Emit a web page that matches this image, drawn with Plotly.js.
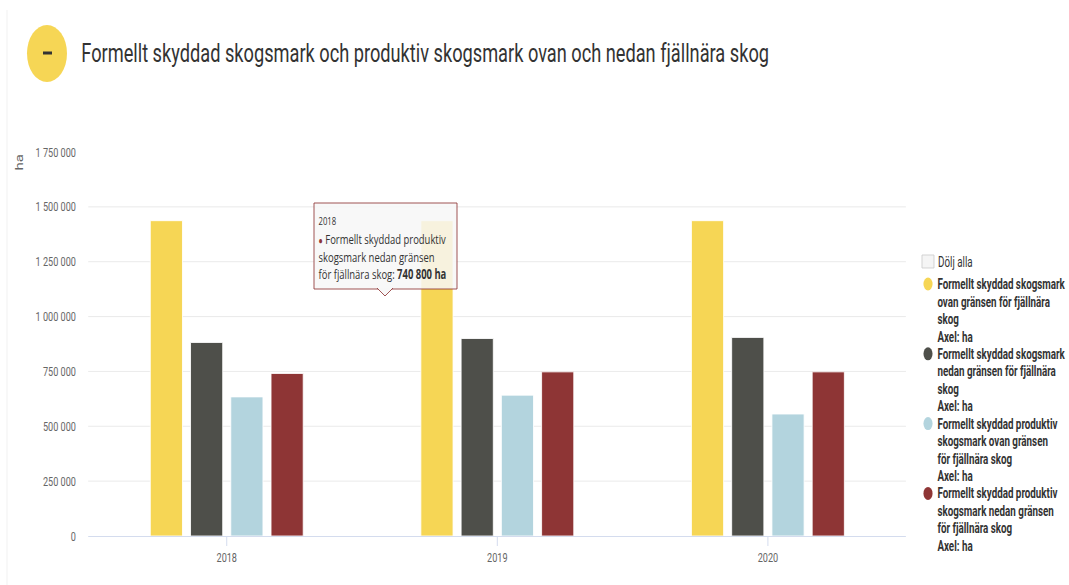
<!DOCTYPE html>
<html><head><meta charset="utf-8">
<script src="https://cdn.plot.ly/plotly-3.0.1.min.js"></script>
<style>
html,body{margin:0;padding:0;overflow:hidden;background:#fff;width:1069px;height:585px}
#chart{width:1527px;height:585px;transform:scaleX(0.70007);transform-origin:0 0}
</style></head><body><div id="chart"></div>
<script>
// ---- data ----
const years = ['2018', '2019', '2020'];
const seriesNames = [
  'Formellt skyddad skogsmark ovan gränsen för fjällnära skog',
  'Formellt skyddad skogsmark nedan gränsen för fjällnära skog',
  'Formellt skyddad produktiv skogsmark ovan gränsen för fjällnära skog',
  'Formellt skyddad produktiv skogsmark nedan gränsen för fjällnära skog'
];
const skogsmarkOvan = [1437000, 1437000, 1437000];
const skogsmarkNedan = [882000, 900000, 905000];
const produktivOvan = [634000, 642000, 556000];
const produktivNedan = [740800, 748000, 748000];
const yTickVals = [0, 250000, 500000, 750000, 1000000, 1250000, 1500000, 1750000];
const legendLines = [
  ['Formellt skyddad skogsmark', 'ovan gränsen för fjällnära', 'skog', 'Axel: ha'],
  ['Formellt skyddad skogsmark', 'nedan gränsen för fjällnära', 'skog', 'Axel: ha'],
  ['Formellt skyddad produktiv', 'skogsmark ovan gränsen', 'för fjällnära skog', 'Axel: ha'],
  ['Formellt skyddad produktiv', 'skogsmark nedan gränsen', 'för fjällnära skog', 'Axel: ha']
];
const titleText = 'Formellt skyddad skogsmark och produktiv skogsmark ovan och nedan fjällnära skog';
const hideAllText = 'Dölj alla';
const yAxisTitle = 'ha';
const tooltipYear = '2018';
const tooltipLines = ['Formellt skyddad produktiv', 'skogsmark nedan gränsen', 'för fjällnära skog: '];
const tooltipValue = '740 800 ha';

// ---- styles / geometry ----
const colors = ['#f6d655', '#4e4f4a', '#b3d4de', '#8e3535'];
const S = 1069 / 1527, W = 1527, H = 585;
const ML = Math.round(88 / S), MR = W - Math.round(906 / S), MT = 152, MB = 49;
const PW = W - ML - MR, PH = H - MT - MB;
const fx = x => (x / S - ML) / PW;          // reference px -> paper x
const fy = y => (H - MB - y) / PH;          // reference px -> paper y
const FONT = 'Roboto, "Liberation Sans", sans-serif';
const TFONT = '"Open Sans", Roboto, sans-serif';

const series = [skogsmarkOvan, skogsmarkNedan, produktivOvan, produktivNedan];
const traces = series.map((vals, i) => ({
  type: 'bar', x: years, y: vals, name: seriesNames[i],
  marker: {color: colors[i], line: {color: '#ffffff', width: 1}},
  showlegend: false, hoverinfo: 'skip'
}));

const P = {xref: 'paper', yref: 'paper'};
const shapes = [
  {...P, type: 'line', x0: fx(7), x1: fx(7), y0: fy(10), y1: fy(585), line: {color: '#eeeeee', width: 1}},
  {...P, type: 'circle', x0: fx(27), x1: fx(67), y0: fy(82), y1: fy(25), fillcolor: '#f6d655', line: {width: 0}},
  {...P, type: 'line', x0: fx(43), x1: fx(52), y0: fy(53), y1: fy(53), line: {color: '#333333', width: 3}},
  {...P, type: 'rect', x0: fx(922), x1: fx(934), y0: fy(268), y1: fy(255), fillcolor: '#f5f5f5', line: {color: '#cccccc', width: 1}},
  // tooltip box
  {...P, type: 'rect', layer: 'above', x0: fx(314), x1: fx(457), y0: fy(289), y1: fy(203),
   fillcolor: 'rgba(247,247,247,0.85)', line: {color: '#8e3535', width: 1}},
  {...P, type: 'path', layer: 'above',
   path: `M ${fx(377)},${fy(288)} L ${fx(385)},${fy(296)} L ${fx(393)},${fy(288)}`,
   fillcolor: 'rgb(247,247,247)', line: {color: '#8e3535', width: 1}}
];

const annotations = [
  {...P, x: fx(80), y: fy(53), xanchor: 'left', yanchor: 'middle', showarrow: false,
   text: titleText, font: {family: FONT, size: 26, color: '#333333'}},
  {...P, x: fx(20), y: fy(163), xanchor: 'center', yanchor: 'middle', showarrow: false,
   textangle: -90, text: yAxisTitle, font: {family: FONT, size: 15, color: '#666666'}},
  {...P, x: fx(937), y: fy(262), xanchor: 'left', yanchor: 'middle', showarrow: false,
   text: hideAllText, font: {family: FONT, size: 14, color: '#333333'}},
  {...P, x: fx(318), y: fy(220), xanchor: 'left', yanchor: 'middle', showarrow: false, borderpad: 0,
   text: tooltipYear, font: {family: TFONT, size: 11, color: '#333333'}},
  {...P, x: fx(318), y: fy(239), xanchor: 'left', yanchor: 'middle', showarrow: false, borderpad: 0,
   text: `<span style="color:${colors[3]};font-size:10px">●</span> ${tooltipLines[0]}`, font: {family: TFONT, size: 13.5, color: '#333333'}},
  {...P, x: fx(318), y: fy(257), xanchor: 'left', yanchor: 'middle', showarrow: false, borderpad: 0,
   text: tooltipLines[1], font: {family: TFONT, size: 13.5, color: '#333333'}},
  {...P, x: fx(318), y: fy(274), xanchor: 'left', yanchor: 'middle', showarrow: false, borderpad: 0,
   text: `${tooltipLines[2]}<b>${tooltipValue}</b>`, font: {family: TFONT, size: 13.5, color: '#333333'}}
];

legendLines.forEach((lines, i) => {
  const cy = 284 + 69.8 * i;
  shapes.push({...P, type: 'circle',
    x0: fx(928) - 6.5 / PW, x1: fx(928) + 6.5 / PW, y0: fy(cy) - 6.5 / PH, y1: fy(cy) + 6.5 / PH,
    fillcolor: colors[i], line: {width: 0}});
  lines.forEach((t, j) => {
    annotations.push({...P, x: fx(937), y: fy(cy + 17.5 * j), xanchor: 'left', yanchor: 'middle', borderpad: 0,
      showarrow: false, text: `<b>${t}</b>`, font: {family: FONT, size: 14, color: '#333333'}});
  });
});

const layout = {
  width: W, height: H,
  margin: {l: ML, r: MR, t: MT, b: MB, pad: 0},
  paper_bgcolor: '#ffffff', plot_bgcolor: '#ffffff',
  separators: ', ',
  barmode: 'group', bargap: 0.405, bargroupgap: 0.2,
  hovermode: false, showlegend: false,
  font: {family: FONT},
  xaxis: {type: 'category', range: [-0.512, 2.51], showgrid: false, showline: true, linecolor: '#ccd6eb', linewidth: 1,
          ticks: 'outside', ticklen: 9, tickwidth: 1, tickcolor: '#ccd6eb',
          tickfont: {family: FONT, size: 13, color: '#666666'}, fixedrange: true},
  yaxis: {range: [0, 1750000], tickvals: yTickVals, tickformat: ',d', showgrid: true, gridcolor: '#e6e6e6', gridwidth: 1,
          zeroline: false, showline: false, ticks: 'outside', ticklen: 14, tickcolor: 'rgba(0,0,0,0)',
          tickfont: {family: FONT, size: 13, color: '#666666'}, fixedrange: true},
  shapes: shapes, annotations: annotations
};

Plotly.newPlot('chart', traces, layout, {displayModeBar: false, staticPlot: true});
</script></body></html>
